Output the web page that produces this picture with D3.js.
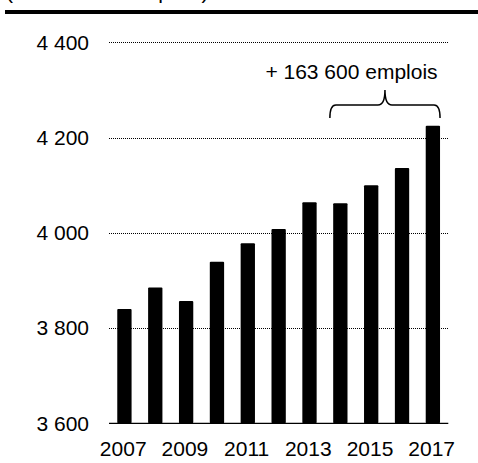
<!DOCTYPE html>
<html>
<head>
<meta charset="utf-8">
<script src="https://cdn.jsdelivr.net/npm/d3@7"></script>
<style>
  html, body { margin: 0; padding: 0; background: #fff; }
  svg { display: block; }
  text { font-family: Arial, "Liberation Sans", sans-serif; fill: #000; }
</style>
</head>
<body>
<svg id="chart" width="478" height="463"></svg>
<script>
const years = ["2007","2008","2009","2010","2011","2012","2013","2014","2015","2016","2017"];
const values = [3840, 3885, 3857, 3939, 3978, 4008, 4064, 4062, 4100, 4136, 4225];
const yTicks = [3600, 3800, 4000, 4200, 4400];
const xTickLabels = ["2007","2009","2011","2013","2015","2017"];
const title = "(en milliers d'emplois)";
const annotation = "+ 163 600 emplois";
const annotFrom = "2014", annotTo = "2017";

const svg = d3.select("#chart");
const fmt = v => d3.format(",")(v).replace(/,/g, " ");

const x = d3.scaleBand().domain(years).range([109, 448.3]).paddingInner(0.536).paddingOuter(0.268);
const y = d3.scaleLinear().domain([3600, 4400]).range([423.3, 42.3]);

// header text (cropped, as in the source) and thick rule
svg.append("text").attr("x", 6).attr("y", -1.5).attr("font-size", 21).text(title);
svg.append("rect").attr("x", 5).attr("y", 10).attr("width", 473).attr("height", 4).attr("fill", "#000");

// gridlines
svg.append("g").selectAll("line").data(yTicks.filter(t => t !== 3600)).join("line")
  .attr("x1", 109).attr("x2", 448.3)
  .attr("y1", d => Math.round(y(d)) + 0.5).attr("y2", d => Math.round(y(d)) + 0.5)
  .attr("stroke", "#000").attr("stroke-width", 1).attr("stroke-dasharray", "1,1");

// bars
svg.append("g").selectAll("rect").data(values).join("rect")
  .attr("x", (d, i) => x(years[i]))
  .attr("y", d => y(d))
  .attr("width", x.bandwidth())
  .attr("height", d => y(3600) - y(d))
  .attr("rx", 1)
  .attr("fill", "#000");

// baseline
svg.append("line").attr("x1", 109).attr("x2", 448.3)
  .attr("y1", y(3600)).attr("y2", y(3600))
  .attr("stroke", "#000").attr("stroke-width", 1.3);

// y axis labels
const yAxis = d3.axisLeft(y).tickValues(yTicks).tickFormat(fmt).tickSize(0).tickPadding(20);
const ga = svg.append("g").attr("transform", "translate(109,0)").call(yAxis);
ga.select(".domain").remove();
ga.selectAll("text").attr("font-size", 21).attr("font-family", "Arial, 'Liberation Sans', sans-serif").attr("fill", "#000");

// x axis labels
const xAxis = d3.axisBottom(x).tickValues(xTickLabels).tickSize(0).tickPadding(17.5);
const gx = svg.append("g").attr("transform", `translate(-1.2,${y(3600)})`).call(xAxis);
gx.select(".domain").remove();
gx.selectAll("text").attr("font-size", 21).attr("font-family", "Arial, 'Liberation Sans', sans-serif").attr("fill", "#000");

// brace annotation
const bx0 = x(annotFrom) - 3.3, bx1 = x(annotTo) + x.bandwidth();
const bm = (bx0 + bx1) / 2;
const yb = 105, yEnd = 118, yTip = 90;
const p = d3.path();
p.moveTo(bx0, yEnd);
p.quadraticCurveTo(bx0, yb, bx0 + 6, yb);
p.lineTo(bm - 7, yb);
p.quadraticCurveTo(bm, yb, bm, yTip);
p.quadraticCurveTo(bm, yb, bm + 7, yb);
p.lineTo(bx1 - 6, yb);
p.quadraticCurveTo(bx1, yb, bx1, yEnd);
svg.append("path").attr("d", p.toString()).attr("fill", "none").attr("stroke", "#000").attr("stroke-width", 1.5);

svg.append("text").attr("x", 351.5).attr("y", 79).attr("text-anchor", "middle").attr("font-size", 21).text(annotation);
</script>
</body>
</html>
